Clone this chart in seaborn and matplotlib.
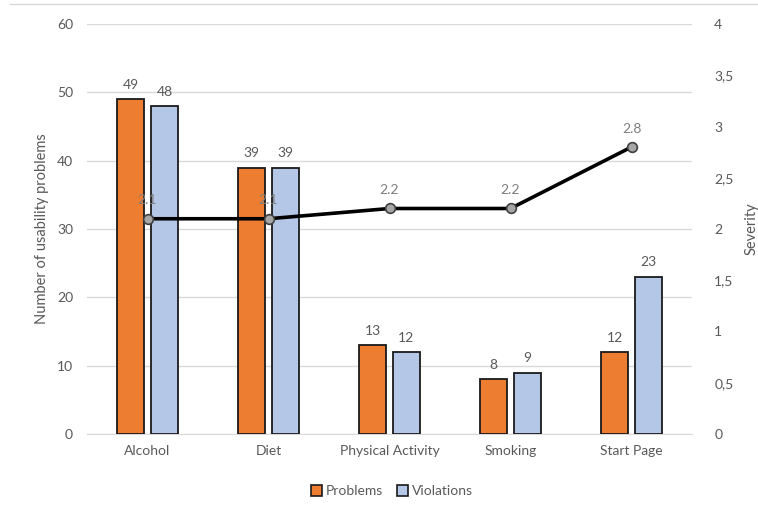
import matplotlib
matplotlib.use("Agg")
import matplotlib.pyplot as plt
import seaborn as sns
import pandas as pd
import numpy as np
from matplotlib.lines import Line2D
from matplotlib.ticker import FuncFormatter

categories = ["Alcohol", "Diet", "Physical Activity", "Smoking", "Start Page"]
problems = [49, 39, 13, 8, 12]
violations = [48, 39, 12, 9, 23]
severity = [2.1, 2.1, 2.2, 2.2, 2.8]
series_names = ["Problems", "Violations"]
left_ticks = [0, 10, 20, 30, 40, 50, 60]
right_ticks = [0, 0.5, 1, 1.5, 2, 2.5, 3, 3.5, 4]

sns.set_style("white")
plt.rcParams["font.family"] = ["Lato", "DejaVu Sans"]

TXT = "#595959"
ORANGE = "#ED7D31"
BLUE = "#B4C7E7"

df = pd.DataFrame({
    "category": categories * 2,
    "series": [series_names[0]] * len(categories) + [series_names[1]] * len(categories),
    "value": problems + violations,
})

fig = plt.figure(figsize=(7.58, 5.11), dpi=100)
ax = fig.add_axes([87 / 758, 1 - 434 / 511, (692 - 87) / 758, (434 - 24) / 511])

sns.barplot(data=df, x="category", y="value", hue="series", order=categories,
            hue_order=series_names, palette=[ORANGE, BLUE], saturation=1, ax=ax,
            width=0.56, gap=0.2, edgecolor="#1a1a1a", linewidth=1.3,
            legend=False, zorder=3)

for cont in ax.containers:
    ax.bar_label(cont, padding=6, color=TXT, fontsize=10)

ax.set_xlim(-0.5, len(categories) - 0.5)
ax.set_ylim(0, 60)
ax.set_yticks(left_ticks)
ax.yaxis.grid(True, color="#d9d9d9", linewidth=1, zorder=0)
ax.set_axisbelow(True)
for s in ["top", "right", "left"]:
    ax.spines[s].set_visible(False)
ax.spines["bottom"].set_color("#d9d9d9")
ax.tick_params(axis="both", length=0, colors=TXT, labelsize=10)
ax.tick_params(axis="y", pad=10)
ax.tick_params(axis="x", pad=8)
ax.set_xlabel("")
ax.set_ylabel("Number of usability problems", color=TXT, fontsize=10.5, labelpad=6)

ax2 = ax.twinx()
sns.lineplot(x=np.arange(len(categories)), y=severity, ax=ax2, color="black",
             linewidth=2.6, marker="o", markersize=7, markerfacecolor="#a6a6a6",
             markeredgecolor="#404040", markeredgewidth=1.2, zorder=5)
for i, v in enumerate(severity):
    ax2.annotate(f"{v}", (i, v), xytext=(0, 9), textcoords="offset points",
                 ha="center", va="bottom", color="#7f7f7f", fontsize=10)
ax2.set_ylim(0, 4)
ax2.set_yticks(right_ticks)
ax2.yaxis.set_major_formatter(FuncFormatter(lambda v, p: f"{v:g}".replace(".", ",")))
for s in ["top", "right", "left", "bottom"]:
    ax2.spines[s].set_visible(False)
ax2.tick_params(axis="y", length=0, colors=TXT, labelsize=10, pad=16)
ax2.set_ylabel("Severity", color=TXT, fontsize=10.5, labelpad=8)

handles = [plt.Rectangle((0, 0), 1, 1, facecolor=ORANGE, edgecolor="#1a1a1a", linewidth=1.2),
           plt.Rectangle((0, 0), 1, 1, facecolor=BLUE, edgecolor="#1a1a1a", linewidth=1.2)]
leg = fig.legend(handles, series_names, loc="center", bbox_to_anchor=(392 / 758, 1 - 491 / 511),
                 ncol=2, frameon=False, handlelength=0.8, handleheight=0.8,
                 handletextpad=0.3, columnspacing=1.0, fontsize=10)
for t in leg.get_texts():
    t.set_color(TXT)

fig.add_artist(Line2D([10 / 758, 1], [1 - 4 / 511, 1 - 4 / 511], color="#d9d9d9", linewidth=1))

fig.savefig("out.png", dpi=100)
